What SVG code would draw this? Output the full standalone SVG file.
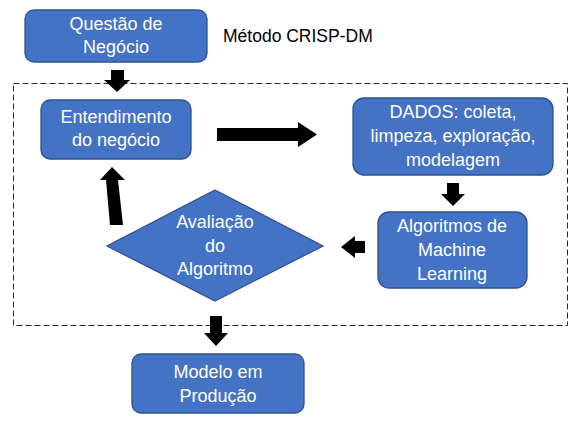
<svg xmlns="http://www.w3.org/2000/svg" width="578" height="425" viewBox="0 0 578 425">
<style>
.box{fill:#4472C4;stroke:#2F528F;stroke-width:1.3}
.t{fill:#fff;font-family:"Liberation Sans",Arial,sans-serif;font-size:18px;text-anchor:middle}
.lbl{fill:#000;font-family:"Liberation Sans",Arial,sans-serif;font-size:17.5px}
.arr{fill:#000}
</style>
<rect width="578" height="425" fill="#fff"/>
<rect x="13.5" y="83.5" width="554" height="242" fill="none" stroke="#1C2B45" stroke-width="1" stroke-dasharray="6,3"/>
<text class="lbl" x="223" y="42">Método CRISP-DM</text>
<g id="connectors">
<polygon class="arr" points="111,70 124,70 124,80 130,80 117,92 104,80 111,80"/>
<polygon class="arr" points="217,128 298,128 298,122 317,134.5 298,147 298,141 217,141"/>
<polygon class="arr" points="447,183 459,183 459,194 465,194 453,206 441,194 447,194"/>
<polygon class="arr" points="365,241 355,241 355,236 341,247 355,258 355,253 365,253"/>
<polygon class="arr" points="112,167 125,180 118,180 123,225 110,225 106,180 100,180"/>
<polygon class="arr" points="210,316 222,316 222,333 228,333 216,346 204,333 210,333"/>
</g>
<g id="questao">
<rect class="box" x="25" y="10" width="182" height="52" rx="9"/>
<text class="t" x="116" y="30">Questão de</text>
<text class="t" x="116" y="53">Negócio</text>
</g>
<g id="entendimento">
<rect class="box" x="41" y="100" width="150" height="59" rx="9"/>
<text class="t" x="116" y="123">Entendimento</text>
<text class="t" x="116" y="146">do negócio</text>
</g>
<g id="dados">
<rect class="box" x="353" y="98" width="200" height="77" rx="11"/>
<text class="t" x="453" y="118">DADOS: coleta,</text>
<text class="t" x="453" y="142">limpeza, exploração,</text>
<text class="t" x="453" y="166">modelagem</text>
</g>
<g id="algoritmos">
<rect class="box" x="378" y="212" width="149" height="76" rx="11"/>
<text class="t" x="452" y="232">Algoritmos de</text>
<text class="t" x="452" y="256">Machine</text>
<text class="t" x="452" y="280">Learning</text>
</g>
<g id="avaliacao">
<polygon class="box" points="215,190 323,246 215,301 107,246"/>
<text class="t" x="215" y="228">Avaliação</text>
<text class="t" x="215" y="252">do</text>
<text class="t" x="215" y="275">Algoritmo</text>
</g>
<g id="modelo">
<rect class="box" x="132" y="354" width="172" height="59" rx="9"/>
<text class="t" x="218" y="378">Modelo em</text>
<text class="t" x="218" y="402">Produção</text>
</g>
</svg>
